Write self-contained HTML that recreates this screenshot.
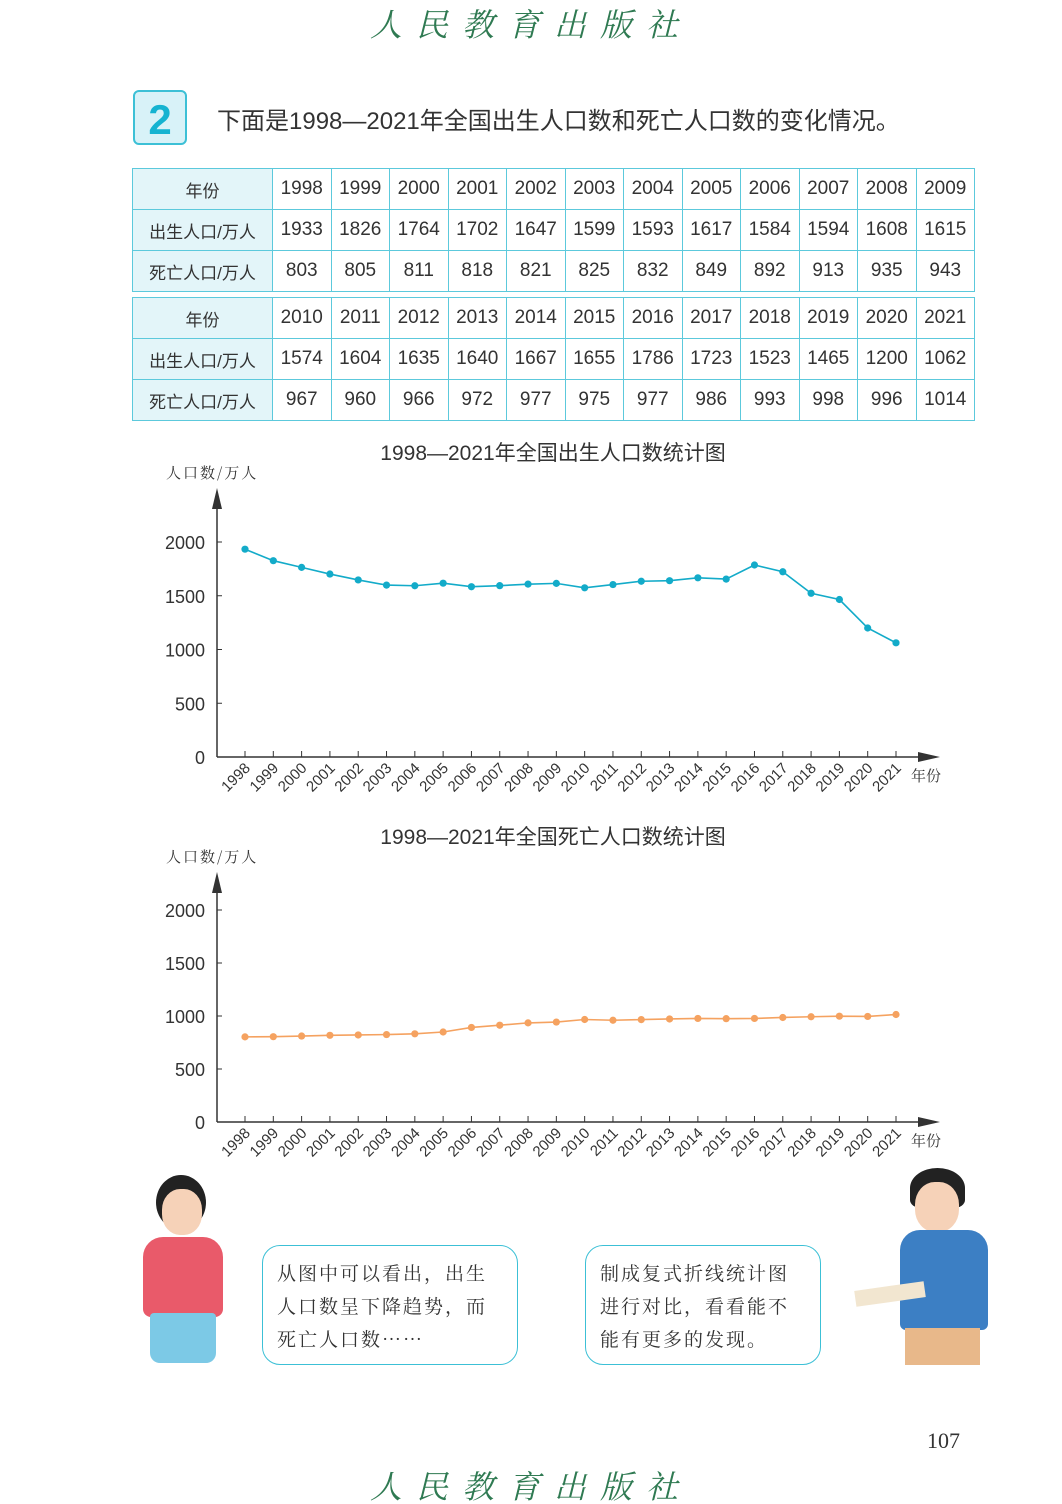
<!DOCTYPE html>
<html><head><meta charset="utf-8">
<style>
body{margin:0;background:#fff;}
#page{position:relative;width:1062px;height:1504px;overflow:hidden;font-family:"Liberation Sans","Noto Sans CJK SC",sans-serif;color:#333;}
.brand{position:absolute;left:0;width:1062px;text-align:center;font-family:"Noto Serif CJK SC",serif;font-style:italic;color:#2f7a52;font-size:32px;letter-spacing:14px;}
table{position:absolute;border-collapse:collapse;left:132px;width:843px;font-size:19px;}
td{border:1.5px solid #5cc9dc;text-align:center;height:40px;padding:0;color:#333;}
td.h{background:#e3f5f9;width:139px;font-size:17px;}
.gap td{height:5px;border-left:none;border-right:none;}
.bubble{position:absolute;border:1.5px solid #3cc0d6;border-radius:18px;background:#fff;font-family:"Noto Serif CJK SC",serif;font-size:19px;line-height:33px;padding:10px 14px;box-sizing:border-box;letter-spacing:2px;}
</style></head><body>
<div id="page">
<div class="brand" style="top:0">人民教育出版社</div>
<div style="position:absolute;left:133px;top:90px;width:54px;height:55px;border:2px solid #3cc0d6;border-radius:6px;background:#d8f2f8;color:#15b3d1;font-size:42px;font-weight:bold;text-align:center;line-height:55px;box-sizing:border-box;">2</div>
<div style="position:absolute;left:217px;top:101px;font-size:24px;color:#333;">下面是1998—2021年全国出生人口数和死亡人口数的变化情况。</div>
<table style="top:168px;">
<tr><td class="h">年份</td><td>1998</td><td>1999</td><td>2000</td><td>2001</td><td>2002</td><td>2003</td><td>2004</td><td>2005</td><td>2006</td><td>2007</td><td>2008</td><td>2009</td></tr>
<tr><td class="h">出生人口/万人</td><td>1933</td><td>1826</td><td>1764</td><td>1702</td><td>1647</td><td>1599</td><td>1593</td><td>1617</td><td>1584</td><td>1594</td><td>1608</td><td>1615</td></tr>
<tr><td class="h">死亡人口/万人</td><td>803</td><td>805</td><td>811</td><td>818</td><td>821</td><td>825</td><td>832</td><td>849</td><td>892</td><td>913</td><td>935</td><td>943</td></tr>
<tr class="gap"><td colspan="13"></td></tr>
<tr><td class="h">年份</td><td>2010</td><td>2011</td><td>2012</td><td>2013</td><td>2014</td><td>2015</td><td>2016</td><td>2017</td><td>2018</td><td>2019</td><td>2020</td><td>2021</td></tr>
<tr><td class="h">出生人口/万人</td><td>1574</td><td>1604</td><td>1635</td><td>1640</td><td>1667</td><td>1655</td><td>1786</td><td>1723</td><td>1523</td><td>1465</td><td>1200</td><td>1062</td></tr>
<tr><td class="h">死亡人口/万人</td><td>967</td><td>960</td><td>966</td><td>972</td><td>977</td><td>975</td><td>977</td><td>986</td><td>993</td><td>998</td><td>996</td><td>1014</td></tr>
</table>
<svg id="charts" width="1062" height="1504" style="position:absolute;left:0;top:0"></svg>
<div style="position:absolute;left:138px;top:1175px;width:90px;height:190px;">
<div style="position:absolute;left:18px;top:0;width:50px;height:55px;border-radius:50%;background:#222;"></div>
<div style="position:absolute;left:24px;top:14px;width:40px;height:46px;border-radius:45%;background:#f6d2b8;"></div>
<div style="position:absolute;left:5px;top:62px;width:80px;height:80px;border-radius:20px 20px 8px 8px;background:#e95a6a;"></div>
<div style="position:absolute;left:12px;top:138px;width:66px;height:50px;background:#7cc9e6;border-radius:4px 4px 10px 10px;"></div>
</div>
<div style="position:absolute;left:855px;top:1168px;width:135px;height:197px;">
<div style="position:absolute;left:55px;top:0;width:55px;height:40px;border-radius:50% 50% 20% 20%;background:#222;"></div>
<div style="position:absolute;left:60px;top:14px;width:44px;height:50px;border-radius:45%;background:#f6d2b8;"></div>
<div style="position:absolute;left:45px;top:62px;width:88px;height:100px;border-radius:20px 20px 6px 6px;background:#3c7fc4;"></div>
<div style="position:absolute;left:0;top:118px;width:70px;height:16px;background:#f2e6d0;transform:rotate(-8deg);"></div>
<div style="position:absolute;left:50px;top:160px;width:75px;height:37px;background:#e8b88a;"></div>
</div>
<div class="bubble" style="left:262px;top:1245px;width:256px;height:120px;">从图中可以看出，出生人口数呈下降趋势，而死亡人口数……</div>
<div class="bubble" style="left:585px;top:1245px;width:236px;height:120px;">制成复式折线统计图进行对比，看看能不能有更多的发现。</div>
<div style="position:absolute;left:927px;top:1428px;font-family:'Liberation Serif',serif;font-size:22px;color:#333;">107</div>
<div class="brand" style="top:1462px">人民教育出版社</div>
</div>
<script>
const years=["1998","1999","2000","2001","2002","2003","2004","2005","2006","2007","2008","2009","2010","2011","2012","2013","2014","2015","2016","2017","2018","2019","2020","2021"];
const births=[1933,1826,1764,1702,1647,1599,1593,1617,1584,1594,1608,1615,1574,1604,1635,1640,1667,1655,1786,1723,1523,1465,1200,1062];
const deaths=[803,805,811,818,821,825,832,849,892,913,935,943,967,960,966,972,977,975,977,986,993,998,996,1014];
const yTicks=[0,500,1000,1500,2000];
const NS="http://www.w3.org/2000/svg";
const svg=document.getElementById('charts');
function mk(t,a,p){const e=document.createElementNS(NS,t);for(const k in a)e.setAttribute(k,a[k]);(p||svg).appendChild(e);return e;}
function chart(title,vals,color,y0,y2000,topY,name){
  const g=mk('g',{});
  
  
  const ax=217,x0=245,step=(896-245)/23;
  const X=i=>x0+i*step, Y=v=>y0-(v/2000)*(y0-y2000);
  const t=mk('text',{x:553,y:topY+17,'text-anchor':'middle','font-size':21,fill:'#333'},g);t.textContent=title;
  
  const yl=mk('text',{x:166,y:topY+35,'font-size':15,fill:'#333','font-family':'Noto Serif CJK SC,serif','letter-spacing':'2'},g);yl.textContent='人口数/万人';
  
  mk('line',{x1:ax,y1:y0,x2:ax,y2:topY+55,stroke:'#333','stroke-width':1.5},g);
  mk('path',{d:`M${ax-5} ${topY+66} L${ax} ${topY+45} L${ax+5} ${topY+66} Z`,fill:'#333'},g);
  mk('line',{x1:ax,y1:y0,x2:930,y2:y0,stroke:'#333','stroke-width':1.5},g);
  mk('path',{d:`M918 ${y0-5} L940 ${y0} L918 ${y0+5} Z`,fill:'#333'},g);
  const xl=mk('text',{x:911,y:y0+24,'font-size':15,fill:'#333','font-family':'Noto Serif CJK SC,serif'},g);xl.textContent='年份';
  
  yTicks.forEach(v=>{mk('line',{x1:ax,y1:Y(v),x2:ax+5,y2:Y(v),stroke:'#333'},g);
    const tt=mk('text',{x:205,y:Y(v)+7,'text-anchor':'end','font-size':18,fill:'#333'},g);tt.textContent=v;
    });
  years.forEach((yr,i)=>{mk('line',{x1:X(i),y1:y0,x2:X(i),y2:y0-6,stroke:'#333'},g);
    const tt=mk('text',{x:X(i)+6,y:y0+12,'text-anchor':'end','font-size':15,fill:'#333',transform:`rotate(-45 ${X(i)+6} ${y0+12})`},g);tt.textContent=yr;
    });
  const ln=mk('polyline',{points:vals.map((v,i)=>X(i)+','+Y(v)).join(' '),fill:'none',stroke:color,'stroke-width':1.6},g);
  
  vals.forEach((v,i)=>{const c=mk('circle',{cx:X(i),cy:Y(v),r:3.6,fill:color},g);
    });
}
chart('1998—2021年全国出生人口数统计图',births,'#13abc9',757,542,443,'birth-chart');
chart('1998—2021年全国死亡人口数统计图',deaths,'#f5a260',1122,910,827,'death-chart');
</script>
</body></html>
